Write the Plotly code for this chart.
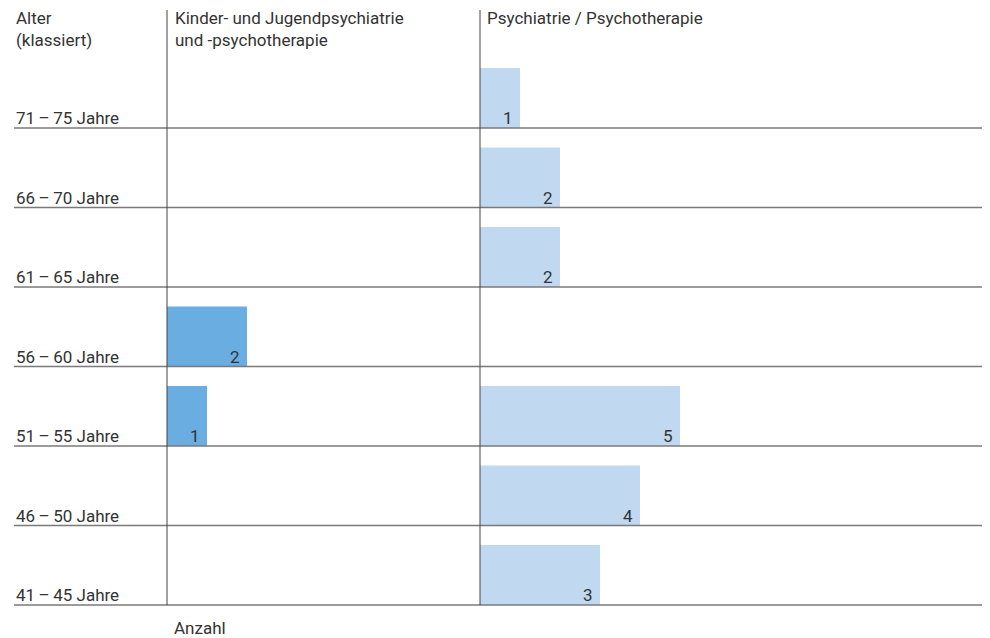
import plotly.graph_objects as go

# Data (bottom row first)
age_groups = ["41\u2009\u2013\u200945 Jahre", "46\u2009\u2013\u200950 Jahre", "51\u2009\u2013\u200955 Jahre",
              "56\u2009\u2013\u200960 Jahre", "61\u2009\u2013\u200965 Jahre", "66\u2009\u2013\u200970 Jahre",
              "71\u2009\u2013\u200975 Jahre"]
kjp_counts = [None, None, 1, 2, None, None, None]
psy_counts = [3, 4, 5, None, 2, 2, 1]

header_age = "Alter<br>(klassiert)"
header_kjp = "Kinder- und Jugendpsychiatrie<br>und -psychotherapie"
header_psy = "Psychiatrie / Psychotherapie"
x_title = "Anzahl"

W, H = 990, 638
OFF = 8  # page body margin
FONT = "Roboto"
TXT = "#333333"
FS = 17
rows = list(range(len(age_groups)))


def px(x):
    return (x - OFF) / W


def py(y):
    return 1 - (y - OFF) / H


fig = go.Figure()
fig.add_trace(go.Bar(
    y=rows, x=kjp_counts, orientation="h", xaxis="x", yaxis="y",
    width=0.755, offset=-0.5, marker_color="#6aade0", marker_line_width=0,
    hoverinfo="skip", showlegend=False
))
fig.add_trace(go.Bar(
    y=rows, x=psy_counts, orientation="h", xaxis="x2", yaxis="y",
    width=0.755, offset=-0.5, marker_color="#c0d9f0", marker_line_width=0,
    hoverinfo="skip", showlegend=False
))

annotations = []
shapes = []
# row labels and separators
for i, label in enumerate(age_groups):
    annotations.append(dict(x=px(14), xref="paper", y=i - 0.5, yref="y", text=label,
                            xanchor="left", yanchor="bottom", showarrow=False, yshift=-2,
                            font=dict(family=FONT, size=FS, color=TXT)))
    shapes.append(dict(type="line", xref="paper", yref="y", x0=px(14), x1=1,
                       y0=i - 0.5, y1=i - 0.5, line=dict(color="#7a7a7a", width=1.6)))

# value labels
for axis, counts in (("x", kjp_counts), ("x2", psy_counts)):
    for i, v in enumerate(counts):
        if v:
            annotations.append(dict(x=v, xref=axis, y=i - 0.5, yref="y", text=str(v),
                                    xanchor="right", yanchor="bottom", showarrow=False,
                                    xshift=-5, yshift=-2,
                                    font=dict(family=FONT, size=FS, color=TXT)))

# headers
for x, txt in ((14, header_age), (173, header_kjp), (485, header_psy)):
    annotations.append(dict(x=px(x), xref="paper", y=py(6), yref="paper", text=txt,
                            xanchor="left", yanchor="top", align="left", showarrow=False,
                            font=dict(family=FONT, size=FS, color=TXT)))
annotations.append(dict(x=px(172), xref="paper", y=py(628), yref="paper", text=x_title,
                        xanchor="left", yanchor="middle", showarrow=False,
                        font=dict(family=FONT, size=FS, color=TXT)))

# panel dividers
for x in (167, 480):
    shapes.append(dict(type="line", xref="paper", yref="paper", x0=px(x), x1=px(x),
                       y0=py(605), y1=py(10), line=dict(color="#444444", width=1)))

axis_off = dict(showgrid=False, zeroline=False, showticklabels=False, showline=False, ticks="")
row_h = 79.5
y_bottom = 605 - OFF
fig.update_layout(
    width=W, height=H,
    margin=dict(l=0, r=0, t=0, b=0),
    paper_bgcolor="white", plot_bgcolor="white",
    xaxis=dict(domain=[px(167), px(480)], range=[0, 313 / 40], **axis_off),
    xaxis2=dict(domain=[px(480), 1], range=[0, (W - (480 - OFF)) / 40], anchor="y", **axis_off),
    yaxis=dict(range=[(y_bottom - H) / row_h - 0.5, y_bottom / row_h - 0.5], **axis_off),
    annotations=annotations, shapes=shapes,
    barmode="overlay",
)

fig.write_html("out.html")
